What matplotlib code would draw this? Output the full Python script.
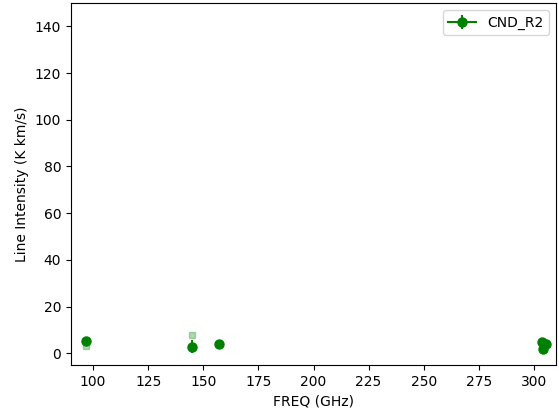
import numpy as np
import matplotlib
matplotlib.use("Agg")
import matplotlib.pyplot as plt

# line intensities for the CND_R2 region
freq = [96.8, 145.1, 157.3, 303.5, 304.1, 305.4]        # GHz
intensity = [5.2, 2.9, 4.1, 5.0, 1.7, 3.8]              # K km/s
intensity_err = [0.6, 2.8, 0.5, 0.6, 0.5, 0.5]

# model / comparison values, drawn faint
freq_model = [96.8, 145.1]
intensity_model = [3.2, 7.8]

fig = plt.figure(figsize=(5.59, 4.17), dpi=100)
ax = fig.add_axes([71/559, 1-365/417, (556-71)/559, (365-3)/417])

ax.plot(freq_model, intensity_model, 's', color='green', alpha=0.3,
        markersize=4.5, linestyle='none', zorder=1)

# one errorbar call per line, so no connecting segments are drawn
for i in range(len(freq)):
    lab = 'CND_R2' if i == 0 else None
    ax.errorbar([freq[i]], [intensity[i]], yerr=[intensity_err[i]],
                fmt='-o', color='green', markersize=6.5, label=lab, zorder=2)

ax.set_xlim(90, 310)
ax.set_ylim(-5, 150)
ax.set_xlabel('FREQ (GHz)')
ax.set_ylabel('Line Intensity (K km/s)')
ax.legend(loc='upper right')

plt.savefig('out.png', dpi=100)
